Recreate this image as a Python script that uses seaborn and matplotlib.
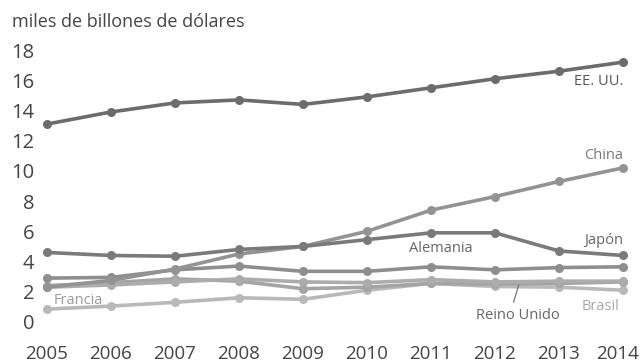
import matplotlib
matplotlib.use("Agg")
import matplotlib.pyplot as plt
import matplotlib.transforms as mtransforms
import seaborn as sns
import pandas as pd

# Nominal GDP, thousands of billions of dollars
years = [2005, 2006, 2007, 2008, 2009, 2010, 2011, 2012, 2013, 2014]
eeuu = [13.1, 13.9, 14.5, 14.7, 14.4, 14.9, 15.5, 16.1, 16.6, 17.2]
china = [2.3, 2.75, 3.5, 4.5, 5.0, 6.0, 7.4, 8.3, 9.3, 10.2]
japon = [4.6, 4.4, 4.35, 4.8, 5.0, 5.45, 5.9, 5.9, 4.7, 4.4]
alemania = [2.9, 2.95, 3.45, 3.7, 3.35, 3.35, 3.65, 3.45, 3.6, 3.65]
francia = [2.3, 2.45, 2.65, 2.85, 2.65, 2.6, 2.8, 2.65, 2.7, 2.7]
reino_unido = [2.4, 2.6, 2.85, 2.7, 2.2, 2.3, 2.55, 2.5, 2.55, 2.65]
brasil = [0.85, 1.05, 1.3, 1.6, 1.5, 2.1, 2.55, 2.35, 2.3, 2.1]

series = {
    "Brasil": brasil,
    "Reino Unido": reino_unido,
    "Francia": francia,
    "Alemania": alemania,
    "China": china,
    "Japón": japon,
    "EE. UU.": eeuu,
}
palette = {
    "Brasil": "#b9b9b9",
    "Reino Unido": "#a4a4a4",
    "Francia": "#acacac",
    "Alemania": "#8e8e8e",
    "China": "#939393",
    "Japón": "#7a7a7a",
    "EE. UU.": "#6c6c6c",
}

df = pd.DataFrame(
    [(name, y, v) for name, vals in series.items() for y, v in zip(years, vals)],
    columns=["pais", "anio", "valor"],
)

sns.set_style("white")
plt.rcParams["font.family"] = ["Open Sans", "DejaVu Sans"]

fig = plt.figure(figsize=(6.41, 3.62), dpi=100)
ax = fig.add_axes([36 / 641, (362 - 329.5) / 362, (633 - 36) / 641, (329.5 - 42.5) / 362])

sns.lineplot(
    data=df, x="anio", y="valor", hue="pais", hue_order=list(series.keys()),
    palette=palette, marker="o", markersize=6.5, markeredgewidth=0,
    linewidth=2.6, legend=False, ax=ax,
)

ax.set_xlim(2005 - 11 / 64, 2014 + 10 / 64)
ax.set_ylim(-0.5, 18.5)
ax.set_xticks(years)
ax.set_xticklabels([str(y) for y in years])
ax.set_yticks(range(0, 19, 2))
ax.tick_params(axis="x", length=0, pad=11, labelsize=13.5, labelcolor="#444444")
ax.tick_params(axis="y", length=0, pad=1, labelsize=14.5, labelcolor="#444444")
ax.set_xlabel("")
ax.set_ylabel("")
for s in ax.spines.values():
    s.set_visible(False)

# keep the last year label inside the canvas
last = ax.get_xticklabels()[-1]
last.set_transform(last.get_transform() + mtransforms.ScaledTranslation(-5 / 100, 0, fig.dpi_scale_trans))

fig.text(12 / 641, 1 - 22 / 362, "miles de billones de dólares", fontsize=13,
         color="#444444", ha="left", va="center")

lab = dict(fontsize=10.5, va="center")
ax.text(2014, 15.9, "EE. UU.", ha="right", color="#555555", **lab)
ax.text(2014, 11.0, "China", ha="right", color="#777777", **lab)
ax.text(2014, 5.4, "Japón", ha="right", color="#666666", **lab)
ax.text(2011.15, 4.85, "Alemania", ha="center", color="#666666", **lab)
ax.text(2005.1, 1.45, "Francia", ha="left", color="#9a9a9a", **lab)
ax.text(2013.95, 1.05, "Brasil", ha="right", color="#a8a8a8", **lab)
ax.text(2012.35, 0.45, "Reino Unido", ha="center", color="#666666", **lab)
ax.plot([2012.37, 2012.29], [2.45, 1.3], color="#777777", linewidth=0.9)

fig.savefig("out.png", dpi=100, facecolor="white")
